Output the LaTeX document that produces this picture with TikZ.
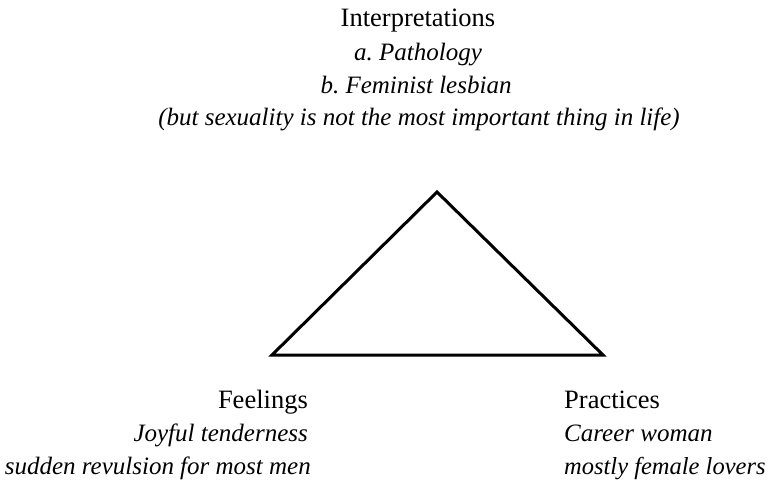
\documentclass[tikz,border=0pt]{standalone}
\usepackage{fontspec}
\setmainfont{Liberation Serif}
\frenchspacing
\begin{document}
\begin{tikzpicture}[x=1pt,y=-1pt,
  lbl/.style={inner sep=0pt,font=\fontsize{26.5}{30}\selectfont},
  ital/.style={inner sep=0pt,font=\fontsize{25}{30}\selectfont\itshape},
  tri/.style={line width=3pt,line join=miter}]
\useasboundingbox (0,0) rectangle (771,484);
% top group
\node[lbl,anchor=base] (interp) at (418,27) {Interpretations};
\node[ital,anchor=base] (ia) at (418,61) {a. Pathology};
\node[ital,anchor=base] (ib) at (416,94) {b. Feminist lesbian};
\node[ital,anchor=base] (ic) at (419,126) {(but sexuality is not the most important thing in life)};
% triangle
\coordinate (apex) at (437,192);
\coordinate (bl) at (272,355);
\coordinate (br) at (603,355);
\draw[tri] (apex) -- (bl) -- (br) -- cycle;
% feelings
\node[lbl,anchor=base east] (feel) at (308,408) {Feelings};
\node[ital,anchor=base east] (fa) at (308,441) {Joyful tenderness};
\node[ital,anchor=base east] (fb) at (311,474) {sudden revulsion for most men};
% practices
\node[lbl,anchor=base west] (prac) at (564,408) {Practices};
\node[ital,anchor=base west] (pa) at (564,441) {Career woman};
\node[ital,anchor=base west,font=\fontsize{24.5}{30}\selectfont\itshape] (pb) at (564,474) {mostly female lovers};
\end{tikzpicture}
\end{document}
